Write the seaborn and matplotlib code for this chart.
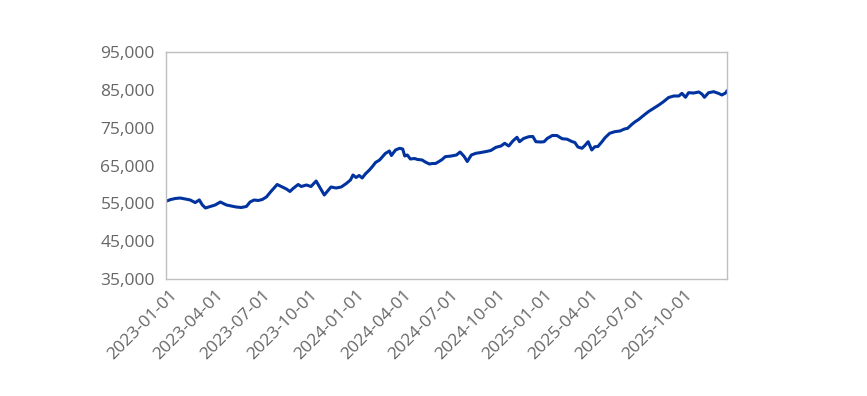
import pandas as pd
import matplotlib
matplotlib.use("Agg")
import matplotlib.pyplot as plt
import matplotlib.dates as mdates
from matplotlib.ticker import FuncFormatter
from matplotlib.transforms import ScaledTranslation
import seaborn as sns

# values
dates = [
    "2023-01-02", "2023-01-10", "2023-01-20", "2023-01-29", "2023-02-08", "2023-02-17",
    "2023-02-27", "2023-03-07", "2023-03-13", "2023-03-19", "2023-03-29", "2023-04-07",
    "2023-04-17", "2023-04-29", "2023-05-08", "2023-05-18", "2023-05-28", "2023-06-07",
    "2023-06-14", "2023-06-22", "2023-06-30", "2023-07-08", "2023-07-16", "2023-07-24",
    "2023-07-31", "2023-08-06", "2023-08-14", "2023-08-24", "2023-08-31", "2023-09-06",
    "2023-09-16", "2023-09-22", "2023-10-02", "2023-10-11", "2023-10-21", "2023-10-29",
    "2023-11-06", "2023-11-14", "2023-11-19", "2023-11-29", "2023-12-09", "2023-12-19",
    "2023-12-27", "2024-01-01", "2024-01-07", "2024-01-13", "2024-01-19", "2024-01-25",
    "2024-02-02", "2024-02-08", "2024-02-14", "2024-02-22", "2024-02-27", "2024-03-04",
    "2024-03-12", "2024-03-16", "2024-03-24", "2024-04-01", "2024-04-07", "2024-04-11",
    "2024-04-16", "2024-04-22", "2024-04-30", "2024-05-06", "2024-05-15", "2024-05-21",
    "2024-05-29", "2024-06-04", "2024-06-10", "2024-06-17", "2024-06-23", "2024-06-29",
    "2024-07-11", "2024-07-21", "2024-07-28", "2024-08-05", "2024-08-11", "2024-08-19",
    "2024-08-28", "2024-09-07", "2024-09-17", "2024-09-26", "2024-10-06", "2024-10-16",
    "2024-10-23", "2024-10-31", "2024-11-08", "2024-11-16", "2024-11-21", "2024-11-29",
    "2024-12-09", "2024-12-17", "2024-12-23", "2025-01-02", "2025-01-08", "2025-01-14",
    "2025-01-24", "2025-02-02", "2025-02-12", "2025-02-22", "2025-03-03", "2025-03-09",
    "2025-03-15", "2025-03-23", "2025-03-29", "2025-04-04", "2025-04-11", "2025-04-17",
    "2025-04-23", "2025-05-01", "2025-05-07", "2025-05-16", "2025-05-26", "2025-06-05",
    "2025-06-14", "2025-06-20", "2025-06-28", "2025-07-04", "2025-07-12", "2025-07-21",
    "2025-07-31", "2025-08-10", "2025-08-20", "2025-08-29", "2025-09-08", "2025-09-18",
    "2025-09-28", "2025-10-04", "2025-10-11", "2025-10-17", "2025-10-27", "2025-11-06",
    "2025-11-12", "2025-11-17", "2025-11-25", "2025-12-05", "2025-12-15", "2025-12-21",
    "2025-12-29", "2025-12-31",
]
values = [
    55600, 56000, 56300, 56400, 56150, 55900,
    55200, 55900, 54560, 53770, 54170, 54560,
    55350, 54560, 54300, 54030, 53900, 54170,
    55350, 55880, 55750, 56020, 56680, 58000,
    59050, 59980, 59450, 58790, 58130, 58920,
    59980, 59450, 59850, 59450, 60900, 59050,
    57200, 58530, 59320, 59050, 59320, 60250,
    61170, 62490, 61830, 62360, 61700, 62760,
    63810, 64740, 65800, 66460, 67250, 68170,
    68830, 67640, 69100, 69550, 69360, 67510,
    67780, 66720, 66850, 66590, 66460, 65930,
    65400, 65530, 65530, 66060, 66590, 67330,
    67510, 67780, 68570, 67380, 66060, 67780,
    68230, 68440, 68700, 68970, 69810, 70160,
    70870, 70160, 71480, 72460, 71290, 72140,
    72610, 72670, 71290, 71210, 71290, 72140,
    72930, 72930, 72090, 71950, 71350, 71080,
    69890, 69550, 70340, 71290, 69100, 69970,
    70020, 71290, 72350, 73510, 73940, 74120,
    74650, 74830, 75840, 76500, 77210, 78220,
    79270, 80120, 80990, 81860, 82970, 83370,
    83370, 84080, 83030, 84240, 84160, 84430,
    83900, 83030, 84240, 84510, 84030, 83640,
    84240, 84770,
]
tick_dates = ["2023-01-01", "2023-04-01", "2023-07-01", "2023-10-01", "2024-01-01",
              "2024-04-01", "2024-07-01", "2024-10-01", "2025-01-01", "2025-04-01",
              "2025-07-01", "2025-10-01"]
y_ticks = [35000, 45000, 55000, 65000, 75000, 85000, 95000]

df = pd.DataFrame({"date": pd.to_datetime(dates), "value": values})

sns.set_style("white")
plt.rcParams["font.family"] = ["Open Sans", "DejaVu Sans"]

fig = plt.figure(figsize=(8.67, 3.96), dpi=100)
ax = fig.add_axes([166 / 867, 1 - 279 / 396, (727 - 166) / 867, (279 - 52) / 396])

sns.lineplot(data=df, x="date", y="value", color="#0033a0", linewidth=2.2, ax=ax)

ax.set_xlim(df["date"].min(), df["date"].max())
ax.set_ylim(35000, 95000)
ax.set_yticks(y_ticks)
ax.yaxis.set_major_formatter(FuncFormatter(lambda v, p: f"{int(v):,}"))
ax.set_xticks(pd.to_datetime(tick_dates))
ax.xaxis.set_major_formatter(mdates.DateFormatter("%Y-%m-%d"))
ax.set_xlabel("")
ax.set_ylabel("")

for s in ax.spines.values():
    s.set_visible(True)
    s.set_color("#bfbfbf")
    s.set_linewidth(1)

ax.tick_params(axis="both", length=0, labelsize=12.5, colors="#666666", pad=8)
# the labels sit a bit to the right of their dates in the reference
shift = ScaledTranslation(15 / 100, 3 / 100, fig.dpi_scale_trans)
for lab in ax.get_xticklabels():
    lab.set_rotation(45)
    lab.set_ha("right")
    lab.set_transform(lab.get_transform() + shift)

fig.savefig("out.png", dpi=100)
